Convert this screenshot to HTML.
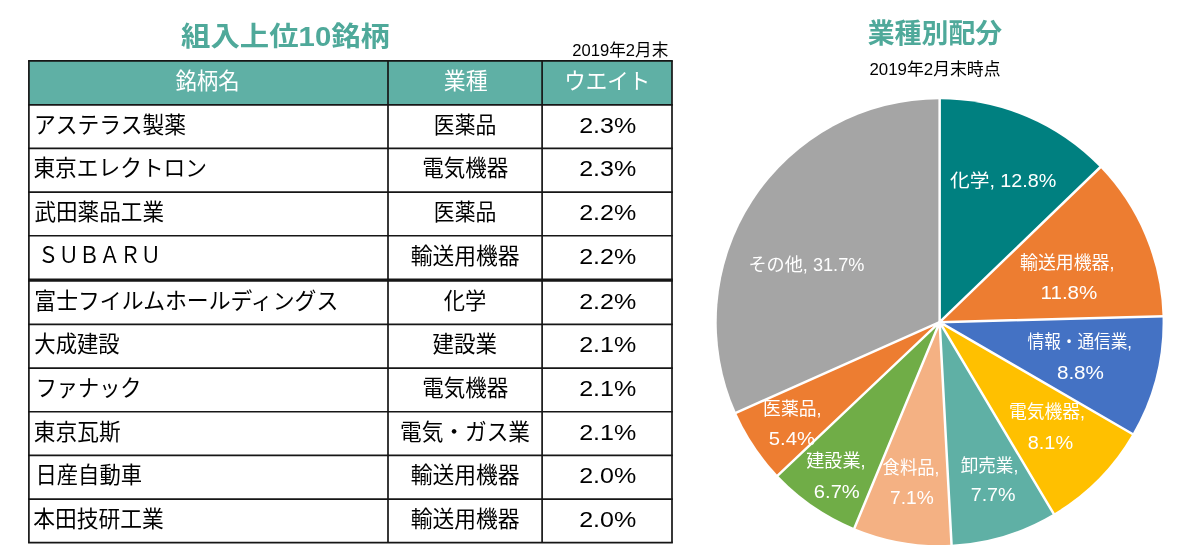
<!DOCTYPE html>
<html lang="ja"><head><meta charset="utf-8"><title>組入上位10銘柄 / 業種別配分</title>
<style>
html,body{margin:0;padding:0;background:#fff}
body{width:1200px;height:560px;position:relative;overflow:hidden;font-family:"Liberation Sans","Noto Sans CJK JP",sans-serif}
.t span{position:absolute;white-space:nowrap;line-height:1;color:transparent;overflow:hidden;height:1.1em}
svg text{font-family:"Liberation Sans","Noto Sans CJK JP",sans-serif}
</style></head><body>
<div class="t"><span style="left:181.0px;top:21.6px;font-size:27.3px;width:209.0px;font-weight:bold">組入上位10銘柄</span>
<span style="left:572.3px;top:41.1px;font-size:17.3px;width:96.0px">2019年2月末</span>
<span style="left:175.4px;top:69.9px;font-size:22.2px;width:64.4px">銘柄名</span>
<span style="left:443.8px;top:69.9px;font-size:22.2px;width:43.8px">業種</span>
<span style="left:564.2px;top:69.6px;font-size:22.2px;width:86.0px">ウエイト</span>
<span style="left:34.0px;top:113.2px;font-size:22.2px;width:152.0px">アステラス製薬</span>
<span style="left:433.8px;top:113.2px;font-size:22.2px;width:62.5px">医薬品</span>
<span style="left:579.2px;top:113.6px;font-size:21.8px;width:57.1px">2.3%</span>
<span style="left:33.4px;top:156.9px;font-size:22.2px;width:173.6px">東京エレクトロン</span>
<span style="left:422.2px;top:156.9px;font-size:22.2px;width:86.1px">電気機器</span>
<span style="left:579.2px;top:157.2px;font-size:21.8px;width:57.1px">2.3%</span>
<span style="left:34.4px;top:200.5px;font-size:22.2px;width:129.6px">武田薬品工業</span>
<span style="left:433.8px;top:200.5px;font-size:22.2px;width:62.5px">医薬品</span>
<span style="left:579.2px;top:200.9px;font-size:21.8px;width:57.1px">2.2%</span>
<span style="left:38.0px;top:243.2px;font-size:22.2px;width:123.0px">ＳＵＢＡＲＵ</span>
<span style="left:410.8px;top:244.2px;font-size:22.2px;width:108.8px">輸送用機器</span>
<span style="left:579.2px;top:244.5px;font-size:21.8px;width:57.1px">2.2%</span>
<span style="left:34.3px;top:289.3px;font-size:22.2px;width:304.0px">富士フイルムホールディングス</span>
<span style="left:443.8px;top:289.3px;font-size:22.2px;width:42.5px">化学</span>
<span style="left:579.2px;top:289.6px;font-size:21.8px;width:57.1px">2.2%</span>
<span style="left:34.3px;top:332.9px;font-size:22.2px;width:85.4px">大成建設</span>
<span style="left:432.5px;top:332.9px;font-size:22.2px;width:64.5px">建設業</span>
<span style="left:579.2px;top:333.3px;font-size:21.8px;width:57.1px">2.1%</span>
<span style="left:35.7px;top:376.6px;font-size:22.2px;width:105.8px">ファナック</span>
<span style="left:422.2px;top:376.6px;font-size:22.2px;width:86.1px">電気機器</span>
<span style="left:579.2px;top:376.9px;font-size:21.8px;width:57.1px">2.1%</span>
<span style="left:33.8px;top:420.2px;font-size:22.2px;width:86.8px">東京瓦斯</span>
<span style="left:400.0px;top:420.2px;font-size:22.2px;width:130.0px">電気・ガス業</span>
<span style="left:579.2px;top:420.6px;font-size:21.8px;width:57.1px">2.1%</span>
<span style="left:35.5px;top:463.9px;font-size:22.2px;width:106.5px">日産自動車</span>
<span style="left:410.8px;top:463.9px;font-size:22.2px;width:108.8px">輸送用機器</span>
<span style="left:579.2px;top:464.2px;font-size:21.8px;width:57.1px">2.0%</span>
<span style="left:33.2px;top:507.5px;font-size:22.2px;width:130.5px">本田技研工業</span>
<span style="left:410.8px;top:507.5px;font-size:22.2px;width:108.8px">輸送用機器</span>
<span style="left:579.2px;top:507.9px;font-size:21.8px;width:57.1px">2.0%</span>
<span style="left:867.7px;top:19.6px;font-size:27.0px;width:134.5px;font-weight:bold">業種別配分</span>
<span style="left:869.5px;top:60.6px;font-size:16.6px;width:131.0px">2019年2月末時点</span>
<span style="left:949.9px;top:171.3px;font-size:17.8px;width:106.5px">化学, 12.8%</span>
<span style="left:748.4px;top:254.9px;font-size:17.8px;width:116.0px">その他, 31.7%</span>
<span style="left:1020.0px;top:253.2px;font-size:17.8px;width:94.4px">輸送用機器,</span>
<span style="left:1040.6px;top:282.9px;font-size:18.8px;width:56.7px">11.8%</span>
<span style="left:1027.5px;top:332.0px;font-size:17.8px;width:104.4px">情報・通信業,</span>
<span style="left:1056.9px;top:362.2px;font-size:18.8px;width:47.1px">8.8%</span>
<span style="left:1009.0px;top:402.0px;font-size:17.8px;width:76.0px">電気機器,</span>
<span style="left:1027.8px;top:432.0px;font-size:18.8px;width:45.3px">8.1%</span>
<span style="left:960.7px;top:455.9px;font-size:17.8px;width:57.6px">卸売業,</span>
<span style="left:970.7px;top:484.8px;font-size:18.8px;width:44.9px">7.7%</span>
<span style="left:882.6px;top:458.7px;font-size:17.8px;width:56.7px">食料品,</span>
<span style="left:890.0px;top:487.5px;font-size:18.8px;width:43.7px">7.1%</span>
<span style="left:806.2px;top:451.6px;font-size:17.8px;width:59.4px">建設業,</span>
<span style="left:813.8px;top:481.0px;font-size:18.8px;width:46.0px">6.7%</span>
<span style="left:763.1px;top:399.1px;font-size:17.8px;width:58.4px">医薬品,</span>
<span style="left:768.8px;top:428.7px;font-size:18.8px;width:46.2px">5.4%</span></div>
<svg width="1200" height="560" viewBox="0 0 1200 560" style="position:absolute;left:0;top:0;filter:blur(0.4px)"><rect x="28.90" y="60.90" width="643.10" height="43.88" fill="#5fb0a5"/><g stroke="#161616" stroke-width="1.70" fill="none"><line x1="28.05" y1="60.90" x2="672.85" y2="60.90"/><line x1="28.05" y1="104.78" x2="672.85" y2="104.78"/><line x1="28.05" y1="148.43" x2="672.85" y2="148.43"/><line x1="28.05" y1="192.08" x2="672.85" y2="192.08"/><line x1="28.05" y1="235.73" x2="672.85" y2="235.73"/><line x1="28.05" y1="280.10" x2="672.85" y2="280.10" stroke-width="3.1"/><line x1="28.05" y1="324.46" x2="672.85" y2="324.46"/><line x1="28.05" y1="368.11" x2="672.85" y2="368.11"/><line x1="28.05" y1="411.76" x2="672.85" y2="411.76"/><line x1="28.05" y1="455.41" x2="672.85" y2="455.41"/><line x1="28.05" y1="499.06" x2="672.85" y2="499.06"/><line x1="28.05" y1="542.71" x2="672.85" y2="542.71"/><line x1="28.90" y1="60.90" x2="28.90" y2="542.71"/><line x1="388.00" y1="60.90" x2="388.00" y2="542.71"/><line x1="542.10" y1="60.90" x2="542.10" y2="542.71"/><line x1="672.00" y1="60.90" x2="672.00" y2="542.71"/></g><path d="M939.65 322.15L939.65 99.20A222.95 222.95 0 0 1 1100.12 167.37Z" fill="#008080"/><path d="M939.65 322.15L1100.12 167.37A222.95 222.95 0 0 1 1162.52 316.20Z" fill="#ed7d31"/><path d="M939.65 322.15L1162.52 316.20A222.95 222.95 0 0 1 1132.50 434.03Z" fill="#4472c4"/><path d="M939.65 322.15L1132.50 434.03A222.95 222.95 0 0 1 1053.64 513.76Z" fill="#ffc000"/><path d="M939.65 322.15L1053.64 513.76A222.95 222.95 0 0 1 951.54 544.78Z" fill="#5fb0a5"/><path d="M939.65 322.15L951.54 544.78A222.95 222.95 0 0 1 854.41 528.16Z" fill="#f4b183"/><path d="M939.65 322.15L854.41 528.16A222.95 222.95 0 0 1 777.73 475.41Z" fill="#70ad47"/><path d="M939.65 322.15L777.73 475.41A222.95 222.95 0 0 1 735.98 412.85Z" fill="#ed7d31"/><path d="M939.65 322.15L735.98 412.85A222.95 222.95 0 0 1 939.65 99.20Z" fill="#a5a5a5"/><path d="M939.65 322.15L939.65 97.20M939.65 322.15L1101.56 165.98M939.65 322.15L1164.52 316.15M939.65 322.15L1134.23 435.03M939.65 322.15L1054.66 515.47M939.65 322.15L951.65 546.78M939.65 322.15L853.65 530.01M939.65 322.15L776.28 476.79M939.65 322.15L734.16 413.67" stroke="#fff" stroke-width="2.5" fill="none" stroke-linecap="butt"/><circle cx="939.65" cy="322.15" r="1.6" fill="#fff"/>
<text x="181.0" y="45.6" font-size="27.3" font-weight="bold" fill="#4fa99a" textLength="209.0" lengthAdjust="spacingAndGlyphs">組入上位10銘柄</text>
<text x="572.3" y="56.0" font-size="17.3" fill="#000" textLength="96.0" lengthAdjust="spacingAndGlyphs">2019年2月末</text>
<text x="175.4" y="89.4" font-size="22.2" fill="#fff" textLength="64.4" lengthAdjust="spacingAndGlyphs">銘柄名</text>
<text x="443.8" y="89.4" font-size="22.2" fill="#fff" textLength="43.8" lengthAdjust="spacingAndGlyphs">業種</text>
<text x="564.2" y="89.1" font-size="22.2" fill="#fff" textLength="86.0" lengthAdjust="spacingAndGlyphs">ウエイト</text>
<text x="34.0" y="132.78" font-size="22.2" fill="#000" textLength="152.0" lengthAdjust="spacingAndGlyphs">アステラス製薬</text>
<text x="433.8" y="132.78" font-size="22.2" fill="#000" textLength="62.5" lengthAdjust="spacingAndGlyphs">医薬品</text>
<text x="579.2" y="132.78" font-size="21.8" fill="#000" textLength="57.1" lengthAdjust="spacingAndGlyphs">2.3%</text>
<text x="33.4" y="176.43" font-size="22.2" fill="#000" textLength="173.6" lengthAdjust="spacingAndGlyphs">東京エレクトロン</text>
<text x="422.2" y="176.43" font-size="22.2" fill="#000" textLength="86.1" lengthAdjust="spacingAndGlyphs">電気機器</text>
<text x="579.2" y="176.43" font-size="21.8" fill="#000" textLength="57.1" lengthAdjust="spacingAndGlyphs">2.3%</text>
<text x="34.4" y="220.08" font-size="22.2" fill="#000" textLength="129.6" lengthAdjust="spacingAndGlyphs">武田薬品工業</text>
<text x="433.8" y="220.08" font-size="22.2" fill="#000" textLength="62.5" lengthAdjust="spacingAndGlyphs">医薬品</text>
<text x="579.2" y="220.08" font-size="21.8" fill="#000" textLength="57.1" lengthAdjust="spacingAndGlyphs">2.2%</text>
<text x="38.0" y="262.73" font-size="22.2" fill="#000" textLength="123.0" lengthAdjust="spacingAndGlyphs" style="font-family:'Noto Sans CJK JP','Liberation Sans',sans-serif">ＳＵＢＡＲＵ</text>
<text x="410.8" y="263.73" font-size="22.2" fill="#000" textLength="108.8" lengthAdjust="spacingAndGlyphs">輸送用機器</text>
<text x="579.2" y="263.73" font-size="21.8" fill="#000" textLength="57.1" lengthAdjust="spacingAndGlyphs">2.2%</text>
<text x="34.3" y="308.81" font-size="22.2" fill="#000" textLength="304.0" lengthAdjust="spacingAndGlyphs">富士フイルムホールディングス</text>
<text x="443.8" y="308.81" font-size="22.2" fill="#000" textLength="42.5" lengthAdjust="spacingAndGlyphs">化学</text>
<text x="579.2" y="308.81" font-size="21.8" fill="#000" textLength="57.1" lengthAdjust="spacingAndGlyphs">2.2%</text>
<text x="34.3" y="352.46" font-size="22.2" fill="#000" textLength="85.4" lengthAdjust="spacingAndGlyphs">大成建設</text>
<text x="432.5" y="352.46" font-size="22.2" fill="#000" textLength="64.5" lengthAdjust="spacingAndGlyphs">建設業</text>
<text x="579.2" y="352.46" font-size="21.8" fill="#000" textLength="57.1" lengthAdjust="spacingAndGlyphs">2.1%</text>
<text x="35.7" y="396.11" font-size="22.2" fill="#000" textLength="105.8" lengthAdjust="spacingAndGlyphs">ファナック</text>
<text x="422.2" y="396.11" font-size="22.2" fill="#000" textLength="86.1" lengthAdjust="spacingAndGlyphs">電気機器</text>
<text x="579.2" y="396.11" font-size="21.8" fill="#000" textLength="57.1" lengthAdjust="spacingAndGlyphs">2.1%</text>
<text x="33.8" y="439.76" font-size="22.2" fill="#000" textLength="86.8" lengthAdjust="spacingAndGlyphs">東京瓦斯</text>
<text x="400.0" y="439.76" font-size="22.2" fill="#000" textLength="130.0" lengthAdjust="spacingAndGlyphs">電気・ガス業</text>
<text x="579.2" y="439.76" font-size="21.8" fill="#000" textLength="57.1" lengthAdjust="spacingAndGlyphs">2.1%</text>
<text x="35.5" y="483.41" font-size="22.2" fill="#000" textLength="106.5" lengthAdjust="spacingAndGlyphs">日産自動車</text>
<text x="410.8" y="483.41" font-size="22.2" fill="#000" textLength="108.8" lengthAdjust="spacingAndGlyphs">輸送用機器</text>
<text x="579.2" y="483.41" font-size="21.8" fill="#000" textLength="57.1" lengthAdjust="spacingAndGlyphs">2.0%</text>
<text x="33.2" y="527.06" font-size="22.2" fill="#000" textLength="130.5" lengthAdjust="spacingAndGlyphs">本田技研工業</text>
<text x="410.8" y="527.06" font-size="22.2" fill="#000" textLength="108.8" lengthAdjust="spacingAndGlyphs">輸送用機器</text>
<text x="579.2" y="527.06" font-size="21.8" fill="#000" textLength="57.1" lengthAdjust="spacingAndGlyphs">2.0%</text>
<text x="867.7" y="43.4" font-size="27.0" font-weight="bold" fill="#4fa99a" textLength="134.5" lengthAdjust="spacingAndGlyphs">業種別配分</text>
<text x="869.5" y="75.0" font-size="16.6" fill="#000" textLength="131.0" lengthAdjust="spacingAndGlyphs">2019年2月末時点</text>
<text x="949.9" y="187.0" font-size="17.8" fill="#fff" textLength="106.5" lengthAdjust="spacingAndGlyphs">化学, 12.8%</text>
<text x="748.4" y="270.6" font-size="17.8" fill="#fff" textLength="116.0" lengthAdjust="spacingAndGlyphs">その他, 31.7%</text>
<text x="1020.0" y="268.9" font-size="17.8" fill="#fff" textLength="94.4" lengthAdjust="spacingAndGlyphs">輸送用機器,</text>
<text x="1040.6" y="299.4" font-size="18.8" fill="#fff" textLength="56.7" lengthAdjust="spacingAndGlyphs">11.8%</text>
<text x="1027.5" y="347.7" font-size="17.8" fill="#fff" textLength="104.4" lengthAdjust="spacingAndGlyphs">情報・通信業,</text>
<text x="1056.9" y="378.75" font-size="18.8" fill="#fff" textLength="47.1" lengthAdjust="spacingAndGlyphs">8.8%</text>
<text x="1009.0" y="417.7" font-size="17.8" fill="#fff" textLength="76.0" lengthAdjust="spacingAndGlyphs">電気機器,</text>
<text x="1027.8" y="448.5" font-size="18.8" fill="#fff" textLength="45.3" lengthAdjust="spacingAndGlyphs">8.1%</text>
<text x="960.7" y="471.6" font-size="17.8" fill="#fff" textLength="57.6" lengthAdjust="spacingAndGlyphs">卸売業,</text>
<text x="970.7" y="501.3" font-size="18.8" fill="#fff" textLength="44.9" lengthAdjust="spacingAndGlyphs">7.7%</text>
<text x="882.6" y="474.4" font-size="17.8" fill="#fff" textLength="56.7" lengthAdjust="spacingAndGlyphs">食料品,</text>
<text x="890.0" y="504.0" font-size="18.8" fill="#fff" textLength="43.7" lengthAdjust="spacingAndGlyphs">7.1%</text>
<text x="806.2" y="467.3" font-size="17.8" fill="#fff" textLength="59.4" lengthAdjust="spacingAndGlyphs">建設業,</text>
<text x="813.8" y="497.5" font-size="18.8" fill="#fff" textLength="46.0" lengthAdjust="spacingAndGlyphs">6.7%</text>
<text x="763.1" y="414.8" font-size="17.8" fill="#fff" textLength="58.4" lengthAdjust="spacingAndGlyphs">医薬品,</text>
<text x="768.8" y="445.25" font-size="18.8" fill="#fff" textLength="46.2" lengthAdjust="spacingAndGlyphs">5.4%</text>
</svg>
</body></html>
